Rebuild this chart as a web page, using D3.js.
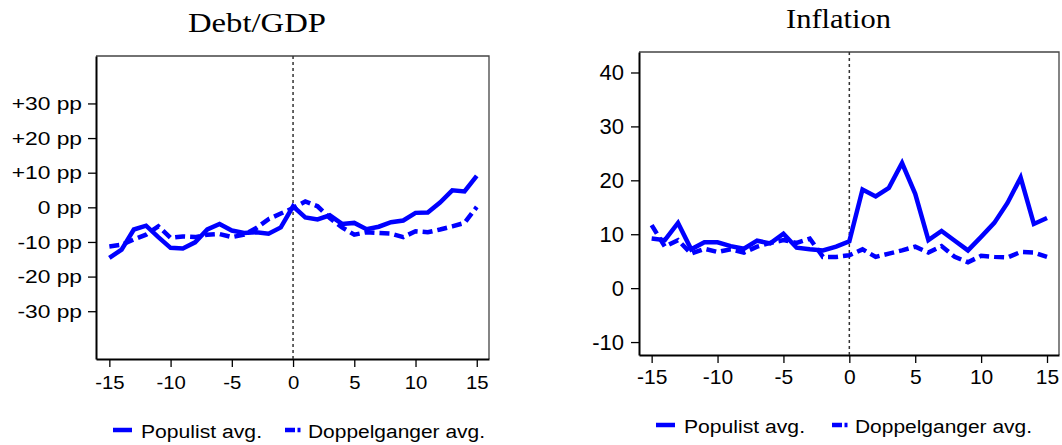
<!DOCTYPE html>
<html lang="en">
<head>
<meta charset="utf-8">
<title>Debt/GDP and Inflation around populist events</title>
<script src="https://d3js.org/d3.v7.min.js"></script>
<style>
  body { margin: 0; background: #fff; }
  svg { display: block; }
  .tick text { fill: #000; font-family: "Liberation Sans", Arial, sans-serif; }
  .legend text { font-family: "Liberation Sans", Arial, sans-serif; font-size: 18px; }
  .title { font-family: "Liberation Serif", "DejaVu Serif", serif; font-size: 27px; }
</style>
</head>
<body>
<div id="chart"></div>
<script>
// years relative to the populist event
var years = [-15,-14,-13,-12,-11,-10,-9,-8,-7,-6,-5,-4,-3,-2,-1,0,1,2,3,4,5,6,7,8,9,10,11,12,13,14,15];

// Debt/GDP, change in pp
var debtPopulist = [-14.6,-12.2,-6.4,-5.3,-8.6,-11.7,-11.9,-10.1,-6.4,-4.8,-6.7,-7.4,-7.2,-7.6,-5.8,0.3,
                    -2.9,-3.5,-2.3,-4.8,-4.5,-6.3,-5.6,-4.3,-3.8,-1.6,-1.5,1.4,4.9,4.6,9.1];
var debtDoppel   = [-11.3,-10.8,-9.3,-7.9,-5.5,-8.8,-8.4,-8.6,-7.9,-7.7,-8.6,-7.9,-6.0,-3.4,-1.8,-0.2,
                    1.7,0.3,-3.1,-5.8,-7.9,-7.2,-7.4,-7.6,-8.6,-6.9,-7.2,-6.4,-5.5,-4.5,0.1];

// Inflation, %
var inflPopulist = [9.2,8.9,12.1,7.2,8.5,8.5,7.8,7.3,8.8,8.3,10.1,7.5,7.2,7.0,7.7,8.7,
                    18.3,17.0,18.6,23.2,17.5,8.9,10.6,8.8,7.0,9.5,12.1,15.8,20.5,11.9,13.0];
var inflDoppel   = [11.7,7.7,8.9,6.4,7.3,6.7,7.2,6.6,7.7,8.4,8.9,8.4,9.2,5.8,5.8,6.1,
                    7.2,5.8,6.4,7.0,7.7,6.6,7.8,5.8,4.8,6.0,5.8,5.7,6.7,6.6,5.8];

var xTicks = [-15,-10,-5,0,5,10,15];
var debtTicks = [-30,-20,-10,0,10,20,30];
var debtTickLabels = ["-30 pp","-20 pp","-10 pp","0 pp","+10 pp","+20 pp","+30 pp"];
var inflTicks = [-10,0,10,20,30,40];
var seriesNames = ["Populist avg.", "Doppelganger avg."];

var width = 1062, height = 445;
var blue = "#0000ff";

// plain hyphen for negatives, like the original
var plain = function(d) { return String(d); };

var svg = d3.select("#chart").append("svg")
    .attr("width", width)
    .attr("height", height);

function drawPanel(p) {
    var x = d3.scaleLinear().domain(p.xDomain).range([p.left, p.right]);
    var y = d3.scaleLinear().domain(p.yDomain).range([p.bottom, p.top]);
    var g = svg.append("g");

    // plot region outline (top / right)
    g.append("path")
        .attr("d", "M" + p.left + "," + p.top + "H" + p.right + "V" + p.bottom)
        .attr("fill", "none")
        .attr("stroke", "#444")
        .attr("stroke-width", 1.3);

    // x axis
    var xa = g.append("g")
        .attr("transform", "translate(0," + p.bottom + ")")
        .call(d3.axisBottom(x).tickValues(xTicks).tickFormat(plain)
              .tickSize(8).tickPadding(p.xPad).tickSizeOuter(0));
    xa.select(".domain").attr("stroke", "#000").attr("stroke-width", 2);
    xa.selectAll(".tick line").attr("stroke", "#000").attr("stroke-width", 1.3);
    xa.selectAll(".tick text")
        .style("font-size", p.xFont + "px")
        .attr("transform", "scale(" + p.xStretch + ",1)");

    // y axis
    var ya = g.append("g")
        .attr("transform", "translate(" + p.left + ",0)")
        .call(d3.axisLeft(y).tickValues(p.yTicks).tickSize(8).tickFormat(p.yFormat).tickSizeOuter(0));
    ya.select(".domain").attr("stroke", "#000").attr("stroke-width", 2);
    ya.selectAll(".tick line").attr("stroke", "#000").attr("stroke-width", 1.3);
    ya.selectAll(".tick text")
        .style("font-size", p.yFont + "px")
        .attr("x", -p.yPad / p.yStretch)
        .attr("transform", "scale(" + p.yStretch + ",1)");

    // reference line at the event year
    g.append("line")
        .attr("x1", x(0)).attr("x2", x(0))
        .attr("y1", p.top).attr("y2", p.bottom)
        .attr("stroke", "#333")
        .attr("stroke-width", 1.5)
        .attr("stroke-dasharray", "3,3");

    var line = d3.line()
        .x(function(d, i) { return x(years[i]); })
        .y(function(d) { return y(d); });

    g.append("path")
        .datum(p.doppel)
        .attr("d", line)
        .attr("fill", "none")
        .attr("stroke", blue)
        .attr("stroke-width", 4.5)
        .attr("stroke-dasharray", "10,5");

    g.append("path")
        .datum(p.populist)
        .attr("d", line)
        .attr("fill", "none")
        .attr("stroke", blue)
        .attr("stroke-width", 4.5);

    // title
    g.append("text")
        .attr("class", "title")
        .attr("x", p.titleX)
        .attr("y", p.titleY)
        .attr("textLength", p.titleW)
        .attr("lengthAdjust", "spacingAndGlyphs")
        .text(p.title);

    // legend
    var lg = g.append("g").attr("class", "legend");
    lg.append("line")
        .attr("x1", p.leg[0]).attr("x2", p.leg[0] + 19)
        .attr("y1", p.legY).attr("y2", p.legY)
        .attr("stroke", blue).attr("stroke-width", 4.5);
    lg.append("text")
        .attr("x", p.leg[0] + 28).attr("y", p.legY + 8)
        .attr("textLength", 121).attr("lengthAdjust", "spacingAndGlyphs")
        .text(seriesNames[0]);
    lg.append("line")
        .attr("x1", p.leg[1]).attr("x2", p.leg[1] + 17)
        .attr("y1", p.legY).attr("y2", p.legY)
        .attr("stroke", blue).attr("stroke-width", 4.5)
        .attr("stroke-dasharray", "10,2.5,3,10");
    lg.append("text")
        .attr("x", p.leg[1] + 23).attr("y", p.legY + 8)
        .attr("textLength", 177).attr("lengthAdjust", "spacingAndGlyphs")
        .text(seriesNames[1]);
}

drawPanel({
    left: 96, right: 489, top: 56, bottom: 359,
    xDomain: [-16.09, 16.0], yDomain: [-43.8, 43.7],
    yTicks: debtTicks,
    yFormat: function(d, i) { return debtTickLabels[i]; },
    xFont: 18, xStretch: 1.13, xPad: 9,
    yFont: 19, yStretch: 1.2, yPad: 14,
    populist: debtPopulist, doppel: debtDoppel,
    title: "Debt/GDP", titleX: 188, titleY: 32, titleW: 138,
    leg: [113, 285], legY: 430
});

drawPanel({
    left: 639, right: 1059, top: 52, bottom: 355,
    xDomain: [-15.96, 15.91], yDomain: [-12.4, 43.8],
    yTicks: inflTicks,
    yFormat: plain,
    xFont: 21, xStretch: 1.0, xPad: 6,
    yFont: 22, yStretch: 1.0, yPad: 15,
    populist: inflPopulist, doppel: inflDoppel,
    title: "Inflation", titleX: 786, titleY: 28, titleW: 105,
    leg: [656, 832], legY: 425
});
</script>
</body>
</html>
